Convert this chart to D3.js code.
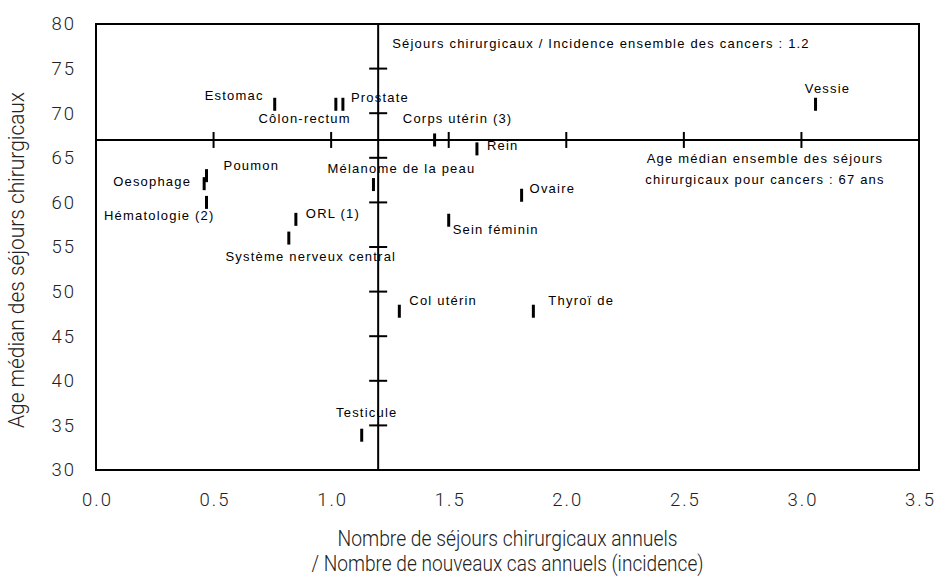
<!DOCTYPE html>
<html>
<head>
<meta charset="utf-8">
<style>
  body { margin: 0; background: #fff; }
  .frame, .cross line { stroke: #000; stroke-width: 2; fill: none; }
  .mark { stroke: #000; stroke-width: 3; }
  .lbl { font-family: "Liberation Sans", Arial, sans-serif; font-size: 13px; letter-spacing: 1.2px; fill: #000; }
  .tick text { font-family: Roboto, sans-serif; font-weight: 300; font-size: 18.5px; letter-spacing: 2px; fill: #222; }
  .title { font-family: Roboto, sans-serif; font-weight: 300; font-size: 22.5px; fill: #222; }
</style>
</head>
<body>
<script src="https://cdn.jsdelivr.net/npm/d3@7"></script>
<script>

// data
var cancers = ["Estomac", "Côlon-rectum", "Prostate", "Vessie", "Corps utérin (3)", "Rein",
	"Mélanome de la peau", "Poumon", "Oesophage", "Hématologie (2)", "Ovaire", "ORL (1)",
	"Sein féminin", "Système nerveux central", "Col utérin", "Thyroï de", "Testicule"];
var ratio = [0.76, 1.02, 1.05, 3.06, 1.44, 1.62, 1.18, 0.47, 0.46, 0.47, 1.81, 0.85, 1.50, 0.82, 1.29, 1.86, 1.13];
var ageMedian = [71, 71, 71, 71, 67, 66, 62, 63, 62.1, 60, 60.8, 58.1, 58, 56, 47.8, 47.8, 33.9];

var xTicks = [0, 0.5, 1, 1.5, 2, 2.5, 3, 3.5];
var yTicks = [30, 35, 40, 45, 50, 55, 60, 65, 70, 75, 80];
var refRatio = 1.2, refAge = 67;

// label placement relative to each mark (px)
var labelPos = {
	"Estomac": [-11, -4, "end"],
	"Côlon-rectum": [15, 19, "end"],
	"Prostate": [8, -2, "start"],
	"Vessie": [12, -11, "middle"],
	"Corps utérin (3)": [23, -17, "middle"],
	"Rein": [10, 1, "start"],
	"Mélanome de la peau": [28, -12, "middle"],
	"Poumon": [17, -6, "start"],
	"Oesophage": [-13, 2, "end"],
	"Hématologie (2)": [8, 18, "end"],
	"Ovaire": [8, -2, "start"],
	"ORL (1)": [10, -1, "start"],
	"Sein féminin": [4, 14, "start"],
	"Système nerveux central": [22, 23, "middle"],
	"Col utérin": [10, -6, "start"],
	"Thyroï de": [15, -6, "start"],
	"Testicule": [5, -18, "middle"]
};

var data = cancers.map((c, i) => ({name: c, x: ratio[i], y: ageMedian[i]}));

var margin = {top: 24, right: 16, bottom: 113, left: 96},
	width = 935 - margin.left - margin.right,
	height = 583 - margin.top - margin.bottom;

var x = d3.scaleLinear().domain([0, 3.5]).range([0, width]);
var y = d3.scaleLinear().domain([30, 80]).range([height, 0]);

var svg = d3.select('body').append('svg')
	.attr('width', 935)
	.attr('height', 583)
	.append('g')
		.attr('transform', `translate(${margin.left},${margin.top})`);

// axes (labels only)
var xAxis = svg.append('g')
	.attr('transform', `translate(0,${height})`)
	.call(d3.axisBottom(x).tickValues(xTicks).tickFormat(d3.format('.1f')).tickSize(0).tickPadding(23));
xAxis.select('.domain').remove();
xAxis.selectAll('text').attr('dx', '1px');

var yAxis = svg.append('g')
	.call(d3.axisLeft(y).tickValues(yTicks).tickSize(0).tickPadding(20));
yAxis.select('.domain').remove();

svg.append('rect')
	.attr('class', 'frame')
	.attr('width', width)
	.attr('height', height);

// reference cross with its own ticks
var cross = svg.append('g').attr('class', 'cross');
cross.append('line')
	.attr('x1', 0).attr('x2', width)
	.attr('y1', y(refAge)).attr('y2', y(refAge));
cross.append('line')
	.attr('x1', x(refRatio)).attr('x2', x(refRatio))
	.attr('y1', 0).attr('y2', height);
cross.selectAll('.hx').data(xTicks).enter().append('line')
	.attr('x1', d => x(d)).attr('x2', d => x(d))
	.attr('y1', y(refAge) - 8).attr('y2', y(refAge) + 8);
cross.selectAll('.vy').data(yTicks).enter().append('line')
	.attr('x1', x(refRatio) - 9).attr('x2', x(refRatio) + 9)
	.attr('y1', d => y(d)).attr('y2', d => y(d));

// marks
var pt = svg.selectAll('.pt').data(data).enter().append('g')
	.attr('transform', d => `translate(${x(d.x)},${y(d.y)})`);
pt.append('line')
	.attr('class', 'mark')
	.attr('y1', -6.5).attr('y2', 6.5);
pt.append('text')
	.attr('class', 'lbl')
	.attr('x', d => labelPos[d.name][0])
	.attr('y', d => labelPos[d.name][1])
	.attr('text-anchor', d => labelPos[d.name][2])
	.text(d => d.name);

// annotations
svg.append('text')
	.attr('class', 'lbl')
	.attr('x', x(refRatio) + 14)
	.attr('y', y(80) + 24)
	.text('Séjours chirurgicaux / Incidence ensemble des cancers : 1.2');
svg.append('text')
	.attr('class', 'lbl')
	.attr('text-anchor', 'middle')
	.attr('x', 669)
	.attr('y', y(refAge) + 23)
	.text('Age médian ensemble des séjours');
svg.append('text')
	.attr('class', 'lbl')
	.attr('text-anchor', 'middle')
	.attr('x', 669)
	.attr('y', y(refAge) + 44.5)
	.text('chirurgicaux pour cancers : 67 ans');

// axis titles (condensed face simulated with textLength)
svg.append('text')
	.attr('class', 'title')
	.attr('text-anchor', 'middle')
	.attr('x', width / 2)
	.attr('y', height + 76)
	.attr('textLength', 340)
	.attr('lengthAdjust', 'spacingAndGlyphs')
	.text('Nombre de séjours chirurgicaux annuels');
svg.append('text')
	.attr('class', 'title')
	.attr('text-anchor', 'middle')
	.attr('x', width / 2)
	.attr('y', height + 101)
	.attr('textLength', 392)
	.attr('lengthAdjust', 'spacingAndGlyphs')
	.text('/ Nombre de nouveaux cas annuels (incidence)');
svg.append('text')
	.attr('class', 'title')
	.attr('text-anchor', 'middle')
	.attr('transform', `translate(-72,${height / 2 + 13}) rotate(-90)`)
	.attr('textLength', 336)
	.attr('lengthAdjust', 'spacingAndGlyphs')
	.text('Age médian des séjours chirurgicaux');

</script>
</body>
</html>
